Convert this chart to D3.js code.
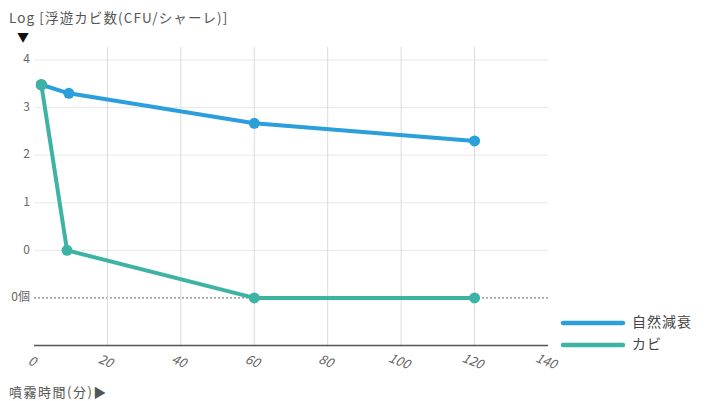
<!DOCTYPE html>
<html><head><meta charset="utf-8">
<script src="https://cdn.jsdelivr.net/npm/d3@7"></script>
<style>body{margin:0;background:#fff}svg{display:block}text{font-family:"Noto Sans CJK JP","Noto Sans",sans-serif}</style>
</head><body>
<svg id="c" width="706" height="401"></svg>
<script>
const seriesNames = ["自然減衰", "カビ"];
const seriesColors = ["#2a9fdb", "#3db3a3"];
const naturalX = [2, 9.5, 60, 120];
const naturalY = [3.48, 3.3, 2.67, 2.3];
const moldX = [2, 9, 60, 120];
const moldY = [3.48, 0, -1, -1];
const xTicks = [0, 20, 40, 60, 80, 100, 120, 140];
const yTicks = [4, 3, 2, 1, 0, -1];
const yTickLabels = ["4", "3", "2", "1", "0", "0個"];
const yTitle = "Log [浮遊カビ数(CFU/シャーレ)]";
const xTitle = "噴霧時間(分)▶";

const svg = d3.select("#c");
const x = d3.scaleLinear().domain([0, 140]).range([34, 548]);
const y = d3.scaleLinear().domain([-2, 4]).range([345.5, 60]);

svg.append("g").selectAll("line").data(yTicks.filter(d => d >= 0)).join("line")
  .attr("x1", x(0)).attr("x2", x(140)).attr("y1", d => y(d)).attr("y2", d => y(d))
  .attr("stroke", "#e8e8e8").attr("stroke-width", 1);
svg.append("line").attr("x1", x(0)).attr("x2", x(140)).attr("y1", y(-1)).attr("y2", y(-1))
  .attr("stroke", "#666").attr("stroke-width", 1).attr("stroke-dasharray", "2,2");
svg.append("g").selectAll("line").data(xTicks.filter(d => d > 0 && d < 140)).join("line")
  .attr("x1", d => x(d)).attr("x2", d => x(d)).attr("y1", 47).attr("y2", y(-2))
  .attr("stroke", "#dadada").attr("stroke-width", 1);

svg.append("line").attr("x1", x(0)).attr("x2", x(140)).attr("y1", y(-2)).attr("y2", y(-2))
  .attr("stroke", "#555").attr("stroke-width", 1.6);

svg.append("g").selectAll("text").data(xTicks).join("text")
  .attr("transform", d => `translate(${x(d) - 2},${362}) rotate(22)`)
  .attr("text-anchor", "middle").attr("dominant-baseline", "middle")
  .attr("font-size", 13).attr("font-style", "italic").attr("fill", "#666")
  .attr("font-family", "Liberation Sans, sans-serif")
  .text(d => d);

svg.append("g").selectAll("text").data(yTicks).join("text")
  .attr("x", 30).attr("y", d => y(d)).attr("text-anchor", "end").attr("dominant-baseline", "middle")
  .attr("font-size", 12).attr("fill", "#666")
  .text((d, i) => yTickLabels[i]);

svg.append("text").attr("x", 9).attr("y", 23).attr("font-size", 13.5).attr("letter-spacing", 1.1).attr("fill", "#555").text(yTitle);
svg.append("text").attr("x", 17).attr("y", 42).attr("font-size", 12).attr("fill", "#111").text("▼");
svg.append("text").attr("x", 9).attr("y", 397).attr("font-size", 13).attr("letter-spacing", 1.5).attr("fill", "#555").text(xTitle);

const line = d3.line().x(d => x(d[0])).y(d => y(d[1]));
const series = [
  naturalX.map((v, i) => [v, naturalY[i]]),
  moldX.map((v, i) => [v, moldY[i]])
];
[1, 0].forEach(si => {
  const g = svg.append("g");
  g.append("path").datum(series[si]).attr("d", line).attr("fill", "none")
    .attr("stroke", seriesColors[si]).attr("stroke-width", 4).attr("stroke-linejoin", "round");
  g.selectAll("circle").data(series[si]).join("circle")
    .attr("cx", d => x(d[0])).attr("cy", d => y(d[1])).attr("r", 5.5).attr("fill", seriesColors[si]);
});
svg.append("circle").attr("cx", x(moldX[0])).attr("cy", y(moldY[0])).attr("r", 5.5).attr("fill", seriesColors[1]);

const lg = svg.append("g");
seriesNames.forEach((n, i) => {
  const ly = 323 + i * 22;
  lg.append("line").attr("x1", 563).attr("x2", 623).attr("y1", ly).attr("y2", ly)
    .attr("stroke", seriesColors[i]).attr("stroke-width", 4.5).attr("stroke-linecap", "round");
  lg.append("text").attr("x", 632).attr("y", ly).attr("dominant-baseline", "middle")
    .attr("font-size", 14).attr("letter-spacing", 1).attr("fill", "#444").text(n);
});
</script>
</body></html>
